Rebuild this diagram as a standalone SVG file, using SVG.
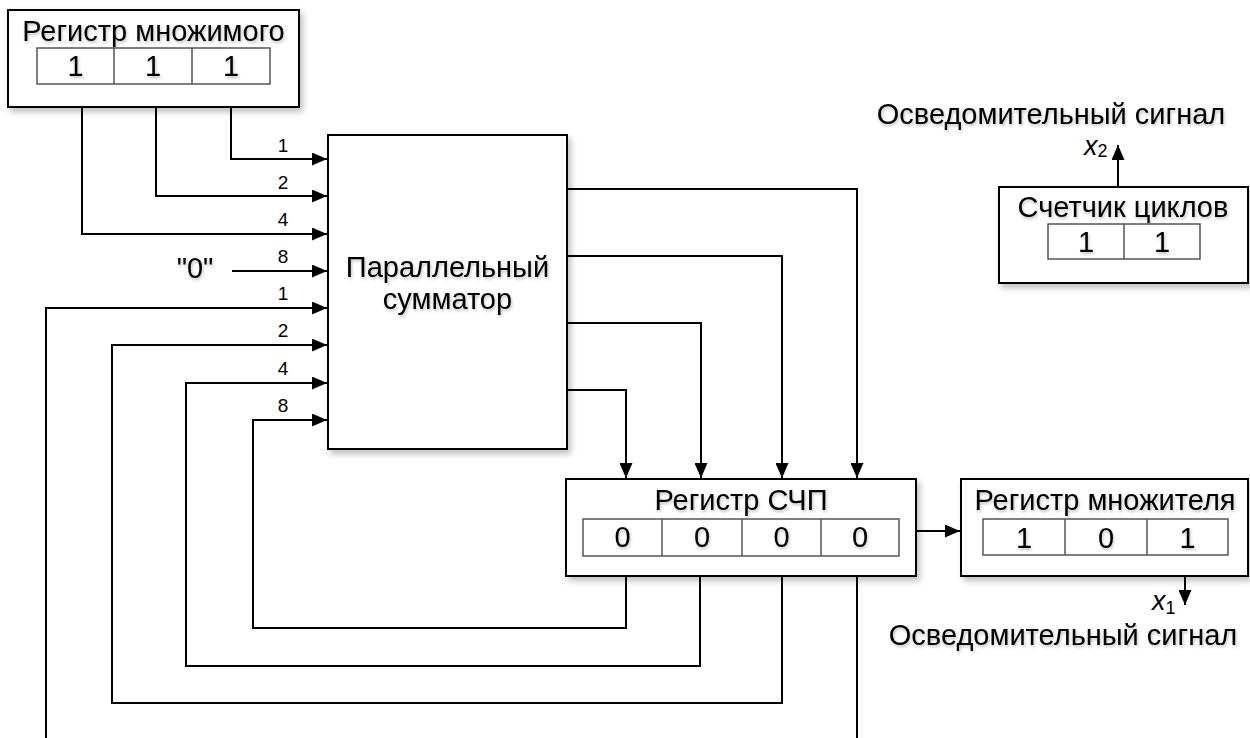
<svg xmlns="http://www.w3.org/2000/svg" width="1250" height="738" viewBox="0 0 1250 738">
<defs>
<style>
.box{fill:#fff;stroke:#000;stroke-width:2;filter:url(#sh)}
.cell{fill:#fff;stroke:#555;stroke-width:1.5}
.lbl{font-family:"Liberation Sans",Arial,sans-serif;font-size:29px;fill:#000;text-anchor:middle;filter:url(#tsh)}
.num{font-family:"Liberation Sans",Arial,sans-serif;font-size:19px;fill:#000;text-anchor:middle}
.xs{font-family:"Liberation Sans",Arial,sans-serif;font-size:27px;font-style:italic;fill:#000}
.sub{font-size:18px;font-style:normal}
.ln{fill:none;stroke:#000;stroke-width:2}
</style>
<filter id="sh" x="-10%" y="-10%" width="130%" height="130%">
<feDropShadow dx="3" dy="4" stdDeviation="3" flood-color="#000" flood-opacity="0.25"/>
</filter>
<filter id="tsh" x="-10%" y="-30%" width="130%" height="170%">
<feDropShadow dx="1" dy="2" stdDeviation="1.5" flood-color="#000" flood-opacity="0.25"/>
</filter>
<marker id="ar" viewBox="0 0 15 13" refX="15" refY="6.5" markerWidth="15" markerHeight="13" markerUnits="userSpaceOnUse" orient="auto">
<path d="M0,0 L15,6.5 L0,13 Z" fill="#000"/>
</marker>
</defs>
<rect width="1250" height="738" fill="#fff"/>

<g id="connectors">
<path class="ln" d="M231,107 V159 H327" marker-end="url(#ar)"/>
<path class="ln" d="M156,107 V196 H327" marker-end="url(#ar)"/>
<path class="ln" d="M82,107 V234 H327" marker-end="url(#ar)"/>
<path class="ln" d="M232,271 H327" marker-end="url(#ar)"/>
<path class="ln" d="M46,740 V308 H327" marker-end="url(#ar)"/>
<path class="ln" d="M857,576 V740"/>
<path class="ln" d="M782,576 V703 H112 V345 H327" marker-end="url(#ar)"/>
<path class="ln" d="M700,576 V666 H186 V383 H327" marker-end="url(#ar)"/>
<path class="ln" d="M626,576 V628 H253 V420 H327" marker-end="url(#ar)"/>
<path class="ln" d="M567,189 H857 V478" marker-end="url(#ar)"/>
<path class="ln" d="M567,256 H782 V478" marker-end="url(#ar)"/>
<path class="ln" d="M567,323 H701 V478" marker-end="url(#ar)"/>
<path class="ln" d="M567,390 H626 V478" marker-end="url(#ar)"/>
<path class="ln" d="M916,531 H960" marker-end="url(#ar)"/>
<path class="ln" d="M1185,555 V605" marker-end="url(#ar)"/>
<path class="ln" d="M1118,187 V145" marker-end="url(#ar)"/>
<text class="num" x="283" y="152">1</text>
<text class="num" x="283" y="189">2</text>
<text class="num" x="283" y="226">4</text>
<text class="num" x="283" y="263">8</text>
<text class="num" x="283" y="300">1</text>
<text class="num" x="283" y="337">2</text>
<text class="num" x="283" y="375">4</text>
<text class="num" x="283" y="412">8</text>
<text class="lbl" x="195" y="278">"0"</text>
</g>

<g id="reg-mnozhimogo">
<rect class="box" x="8" y="10" width="291" height="97"/>
<text class="lbl" x="153.5" y="41">Регистр множимого</text>
<rect class="cell" x="37" y="48" width="233" height="36"/>
<path class="cell" d="M114,48 V84 M192,48 V84"/>
<text class="lbl" x="75.5" y="76">1</text>
<text class="lbl" x="153" y="76">1</text>
<text class="lbl" x="231" y="76">1</text>
</g>

<g id="adder">
<rect class="box" x="328" y="135" width="239" height="314"/>
<text class="lbl" x="447.5" y="277">Параллельный</text>
<text class="lbl" x="447.5" y="309">сумматор</text>
</g>

<g id="reg-schp">
<rect class="box" x="566" y="479" width="350" height="97"/>
<text class="lbl" x="741" y="510">Регистр СЧП</text>
<rect class="cell" x="583" y="519" width="316" height="37"/>
<path class="cell" d="M662,519 V556 M742,519 V556 M821,519 V556"/>
<text class="lbl" x="622.5" y="547">0</text>
<text class="lbl" x="702" y="547">0</text>
<text class="lbl" x="781.5" y="547">0</text>
<text class="lbl" x="860" y="547">0</text>
</g>

<g id="reg-mnozhitelya">
<rect class="box" x="961" y="479" width="287" height="97"/>
<text class="lbl" x="1105" y="510">Регистр множителя</text>
<rect class="cell" x="983" y="519" width="245" height="36"/>
<path class="cell" d="M1065,519 V555 M1147,519 V555"/>
<text class="lbl" x="1024" y="548">1</text>
<text class="lbl" x="1106" y="548">0</text>
<text class="lbl" x="1187.5" y="548">1</text>
</g>

<g id="counter">
<rect class="box" x="999" y="187" width="249" height="96"/>
<text class="lbl" x="1123" y="217">Счетчик циклов</text>
<rect class="cell" x="1048" y="224" width="152" height="35"/>
<path class="cell" d="M1124,224 V259"/>
<text class="lbl" x="1086" y="252">1</text>
<text class="lbl" x="1162" y="252">1</text>
</g>

<g id="signal-x2">
<text class="lbl" x="1051" y="124">Осведомительный сигнал</text>
<text class="xs" x="1084" y="155">x<tspan class="sub" dy="2">2</tspan></text>
</g>

<g id="signal-x1">
<text class="xs" x="1152" y="610">x<tspan class="sub" dy="4">1</tspan></text>
<text class="lbl" x="1063" y="645">Осведомительный сигнал</text>
</g>
</svg>
